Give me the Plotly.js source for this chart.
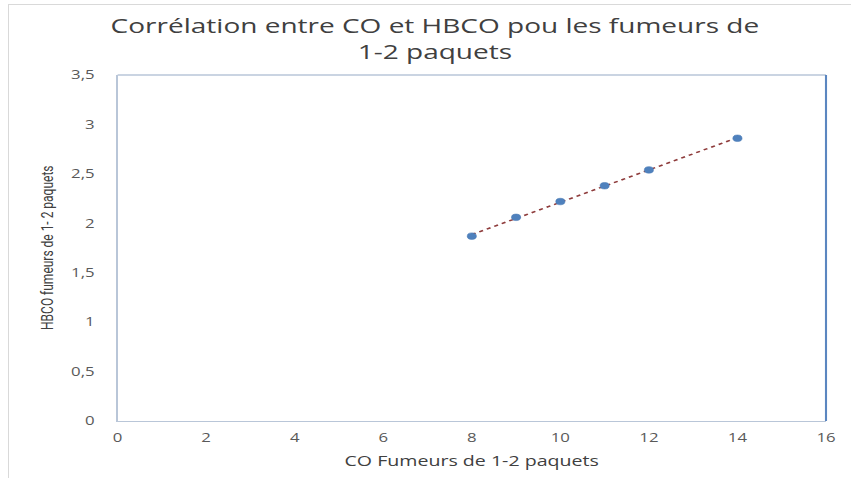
<!DOCTYPE html>
<html>
<head>
<meta charset="utf-8">
<script src="https://cdn.plot.ly/plotly-3.0.1.min.js"></script>
<style>
html,body{margin:0;padding:0;background:#fff;overflow:hidden;}
#wrap{position:absolute;left:0;top:0;width:851px;height:478px;overflow:hidden;}
#frame{position:absolute;left:8px;top:4px;width:843px;height:474px;border-top:1px solid #d9d9d9;border-left:1px solid #d9d9d9;pointer-events:none;z-index:5;}
#chart{position:absolute;left:0;top:0;width:608px;height:478px;transform:scaleX(1.4);transform-origin:0 0;}
</style>
</head>
<body>
<div id="wrap"><div id="chart"></div><div id="frame"></div></div>
<script>
var coValues = [8, 9, 10, 11, 12, 14];
var hbcoValues = [1.87, 2.06, 2.22, 2.38, 2.54, 2.86];
var xTicks = [0, 2, 4, 6, 8, 10, 12, 14, 16];
var yTicks = [0, 0.5, 1, 1.5, 2, 2.5, 3, 3.5];
var chartTitle = 'Corrélation entre CO et HBCO pou les fumeurs de<br>1-2 paquets';
var xTitle = 'CO Fumeurs de 1-2 paquets';
var yTitle = 'HBCO fumeurs de 1- 2 paquets';

// linear regression trendline (Excel-style) computed from the data
var n = coValues.length, sx = 0, sy = 0, sxy = 0, sxx = 0;
for (var i = 0; i < n; i++) { sx += coValues[i]; sy += hbcoValues[i]; sxy += coValues[i]*hbcoValues[i]; sxx += coValues[i]*coValues[i]; }
var slope = (n*sxy - sx*sy) / (n*sxx - sx*sx);
var intercept = (sy - slope*sx) / n;
var xMin = Math.min.apply(null, coValues), xMax = Math.max.apply(null, coValues);
var trendX = [xMin, xMax];
var trendY = trendX.map(function(v){ return intercept + slope*v; });

var S = 1.4; // horizontal stretch of the whole chart
var tickFont = {family: 'Open Sans, Noto Sans, sans-serif', size: 12, color: '#595959'};

var data = [
  {x: trendX, y: trendY, mode: 'lines', type: 'scatter', hoverinfo: 'skip',
   line: {color: '#8e3b3b', width: 1.5, dash: 'dot'}, showlegend: false},
  {x: coValues, y: hbcoValues, mode: 'markers', type: 'scatter',
   marker: {color: '#4f81bd', size: 6.5, line: {color: '#4a7ab5', width: 0.5}}, showlegend: false}
];

var layout = {
  width: 608, height: 478,
  margin: {l: 117/S, r: 608 - 826/S, t: 75, b: 57},
  paper_bgcolor: '#ffffff', plot_bgcolor: '#ffffff',
  separators: ', ',
  xaxis: {range: [0, 16], tickvals: xTicks, ticktext: xTicks.map(String), showgrid: false, zeroline: false,
          showline: true, linecolor: '#b9c6d8', linewidth: 1, ticks: '',
          tickfont: tickFont, ticklabelstandoff: 6},
  yaxis: {range: [0, 3.5], tickvals: yTicks, showgrid: false, zeroline: false,
          showline: true, linecolor: '#b9c6d8', linewidth: 1, ticks: '',
          tickfont: tickFont, tickformat: '.1~f', ticklabelstandoff: 13},
  annotations: [
    {text: chartTitle, xref: 'paper', yref: 'paper', x: (435-117)/709, y: (421-38)/346,
     xanchor: 'center', yanchor: 'middle', showarrow: false,
     font: {family: 'Open Sans, Noto Sans, sans-serif', size: 20, color: '#404040'}},
    {text: xTitle, xref: 'paper', yref: 'paper', x: (471-117)/709, y: (421-460)/346,
     xanchor: 'center', yanchor: 'middle', showarrow: false,
     font: {family: 'Open Sans, Noto Sans, sans-serif', size: 14, color: '#404040'}},
    {text: yTitle, xref: 'paper', yref: 'paper', x: (47-117)/709, y: 0.5, textangle: -90,
     xanchor: 'center', yanchor: 'middle', showarrow: false,
     font: {family: 'Roboto, Liberation Sans, sans-serif', size: 12, color: '#404040'}}
  ],
  shapes: [
    {type: 'line', xref: 'paper', yref: 'paper', x0: 0, x1: 1, y0: 1, y1: 1, line: {color: '#b9c6d8', width: 1.5}},
    {type: 'line', xref: 'paper', yref: 'paper', x0: 1, x1: 1, y0: 0, y1: 1, line: {color: '#5b86c0', width: 1.5}}
  ]
};

Plotly.newPlot('chart', data, layout, {displayModeBar: false, staticPlot: true});
</script>
</body>
</html>
